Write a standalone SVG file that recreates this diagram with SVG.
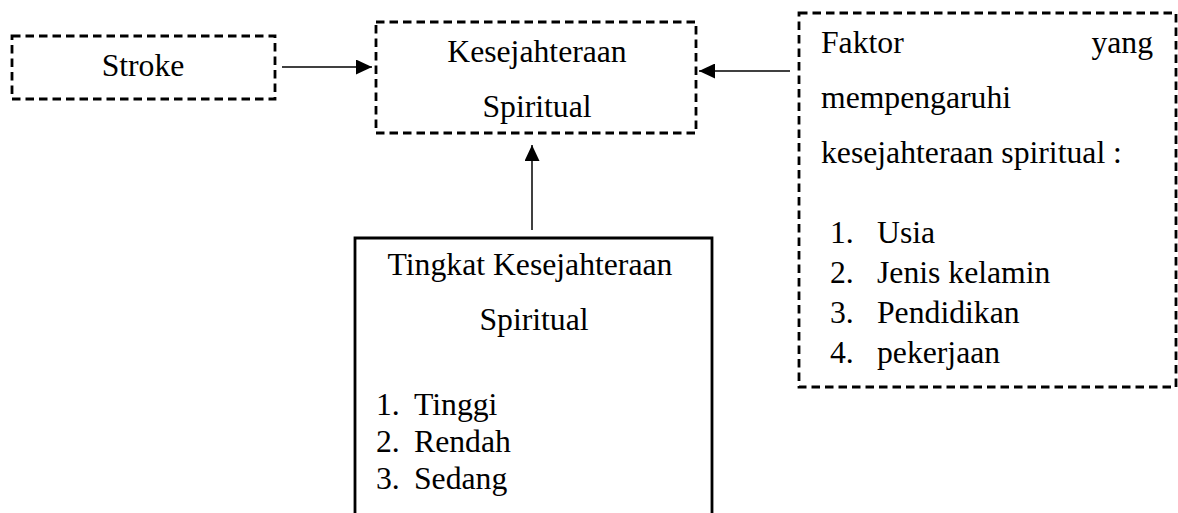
<svg xmlns="http://www.w3.org/2000/svg" width="1178" height="513" viewBox="0 0 1178 513">
<defs>
<style>
text{font-family:"Liberation Serif","Times New Roman",serif;font-size:31.7px;fill:#000}
.dash{fill:none;stroke:#000;stroke-width:2.8;stroke-dasharray:8.5 5}
.solid{fill:none;stroke:#000;stroke-width:2.8}
.conn{fill:none;stroke:#000;stroke-width:1.5}
.c{text-anchor:middle}
</style>
<marker id="ah" viewBox="0 0 16 15" refX="16" refY="7.5" markerWidth="16" markerHeight="15" markerUnits="userSpaceOnUse" orient="auto">
<path d="M0,0 L16,7.5 L0,15 Z" fill="#000"/>
</marker>
</defs>
<rect width="1178" height="513" fill="#fff"/>
<g id="connectors">
<line class="conn" x1="282" y1="67" x2="372" y2="67" marker-end="url(#ah)"/>
<line class="conn" x1="790" y1="71" x2="699" y2="71" marker-end="url(#ah)"/>
<line class="conn" x1="532" y1="230" x2="532" y2="145" marker-end="url(#ah)"/>
</g>
<g id="stroke">
<rect class="dash" x="12" y="36" width="263" height="63"/>
<text class="c" x="143" y="76">Stroke</text>
</g>
<g id="kesejahteraan">
<rect class="dash" x="376" y="22" width="320" height="111"/>
<text class="c" x="537" y="62">Kesejahteraan</text>
<text class="c" x="537" y="117">Spiritual</text>
</g>
<g id="faktor">
<rect class="dash" x="799" y="13" width="377" height="374"/>
<text x="821" y="53">Faktor</text>
<text x="1153" y="53" text-anchor="end">yang</text>
<text x="821" y="108">mempengaruhi</text>
<text x="821" y="163">kesejahteraan spiritual :</text>
<text x="830" y="243">1.</text><text x="877" y="243">Usia</text>
<text x="830" y="283">2.</text><text x="877" y="283">Jenis kelamin</text>
<text x="830" y="323">3.</text><text x="877" y="323">Pendidikan</text>
<text x="830" y="363">4.</text><text x="877" y="363">pekerjaan</text>
</g>
<g id="tingkat">
<path class="solid" d="M355,515 L355,238 L712,238 L712,515"/>
<text class="c" x="530" y="275">Tingkat Kesejahteraan</text>
<text class="c" x="534" y="330">Spiritual</text>
<text x="376" y="415">1.</text><text x="414" y="415">Tinggi</text>
<text x="376" y="452">2.</text><text x="414" y="452">Rendah</text>
<text x="376" y="489">3.</text><text x="414" y="489">Sedang</text>
</g>
</svg>
